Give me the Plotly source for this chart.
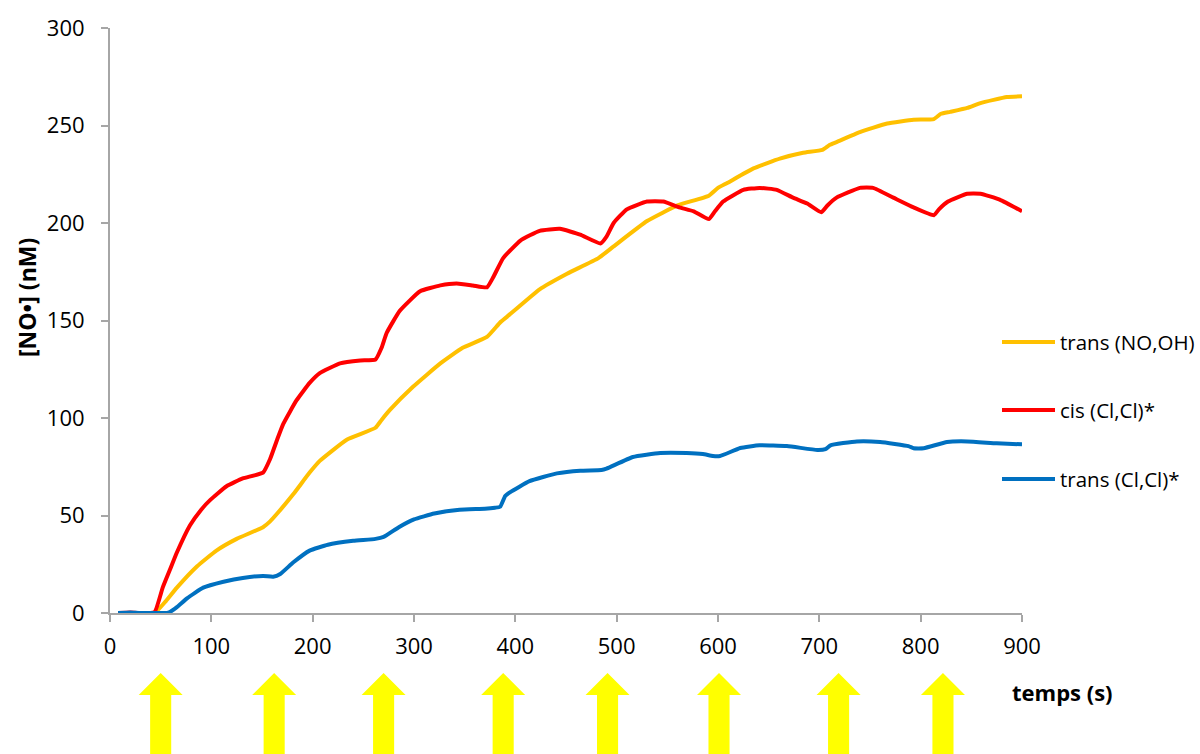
import plotly.graph_objects as go

# Time (s) and NO• concentration (nM) for each complex
red_t = [8, 20, 30, 44, 52, 59, 66, 79, 90, 99, 115, 131, 151, 158, 165, 171, 184, 197, 207,
         227, 247, 262, 268, 273, 286, 306, 326, 342, 358, 372, 378, 388, 405, 424, 444, 464,
         484, 490, 497, 510, 530, 546, 562, 576, 591, 597, 605, 625, 641, 658, 674, 688, 702,
         708, 717, 740, 753, 773, 793, 813, 818, 827, 846, 859, 878, 900]
red_v = [0, 0.3, 0, 0.5, 13, 22, 31, 45, 53, 58, 65, 69, 72, 79, 89, 97, 109, 118, 123,
         128, 129.5, 130, 136, 143.6, 155, 165, 168, 169, 168, 167, 172, 182, 191, 196, 197, 194,
         189.5, 193, 200, 207, 211, 211, 208, 206, 202, 206, 211, 217, 218, 217, 213, 210, 205.5,
         209, 213, 218, 218, 213, 208, 204, 207, 211, 215, 215, 212, 206]

yel_t = [8, 20, 30, 44, 55, 66, 86, 105, 125, 151, 158, 165, 181, 197, 207, 234, 262, 268, 276,
         299, 326, 348, 372, 385, 392, 424, 451, 482, 497, 530, 560, 591, 600, 609, 635, 661,
         684, 703, 710, 717, 740, 767, 793, 813, 820, 829, 846, 859, 885, 900]
yel_v = [0, 0, 0, 0, 6, 13, 24, 32, 38, 44, 47, 51, 61, 72, 78, 89, 95, 99, 104,
         116, 128, 136, 141.6, 149, 152, 166, 174, 182, 188, 201, 209, 214, 218, 220.5, 228, 233,
         236, 237.5, 240, 241.5, 246.6, 251, 253, 253.3, 256, 257, 259, 261.5, 264.6, 265]

blue_t = [8, 20, 30, 45, 56, 59, 66, 76, 92, 112, 131, 151, 161, 168, 181, 197, 215, 240, 262,
          270, 285, 300, 320, 345, 370, 380, 385, 390, 395, 414, 441, 464, 485, 490, 516, 543,
          569, 585, 595, 602, 622, 641, 668, 698, 706, 711, 737, 760, 788, 793, 803, 826, 846,
          875, 900]
blue_v = [0, 0.3, 0, 0, 0, 0.5, 3, 7.5, 13, 16, 18, 19, 18.6, 20, 26, 32, 35, 37, 38,
          39, 44, 48, 51, 53, 53.5, 54, 54.5, 60, 62, 67.6, 71.6, 73, 73.3, 74, 80, 82,
          82, 81.5, 80.5, 80.5, 84.6, 86, 85.6, 83.6, 84, 86, 88, 87.7, 85.6, 84.5, 84.5, 87.7, 88,
          87, 86.5]

# Injection times marked by the arrows below the axis
injections = [50, 162, 270, 388, 491, 601, 719, 822]

series = [
    ("trans (NO,OH)", yel_t, yel_v, "#FFC000"),
    ("cis (Cl,Cl)*", red_t, red_v, "#FF0000"),
    ("trans (Cl,Cl)*", blue_t, blue_v, "#0070C0"),
]

FONT = "Open Sans"
L, R, T, B = 110, 178, 28, 141
W, H = 1200, 754
PW, PH = W - L - R, H - T - B


def px_to_paper(px, py):
    return (px - L) / PW, (T + PH - py) / PH


fig = go.Figure()
for name, t, v, col in series:
    fig.add_trace(go.Scatter(x=t, y=v, mode="lines", name=name,
                             line=dict(color=col, width=4, shape="spline", smoothing=0.4),
                             showlegend=False))

shapes = []
annotations = []

# Legend drawn beside the plot
legend_rows = [342, 410, 479]
for (name, _, _, col), py in zip(series, legend_rows):
    x0, y0 = px_to_paper(1002, py)
    x1, _ = px_to_paper(1055, py)
    shapes.append(dict(type="line", xref="paper", yref="paper", x0=x0, x1=x1, y0=y0, y1=y0,
                       line=dict(color=col, width=4)))
    xt, _ = px_to_paper(1058, py)
    annotations.append(dict(text=name, xref="paper", yref="paper", x=xt, y=y0,
                            xanchor="left", yanchor="middle", showarrow=False,
                            font=dict(family=FONT, size=20.5, color="#000000")))

# Yellow arrows
tip_y = px_to_paper(0, 673)[1]
base_y = px_to_paper(0, 695)[1]
bot_y = px_to_paper(0, 760)[1]
head_hw = 21.7
shaft_hw = 10.4
for t0 in injections:
    path = (f"M {t0 - shaft_hw},{bot_y} L {t0 - shaft_hw},{base_y} L {t0 - head_hw},{base_y} "
            f"L {t0},{tip_y} L {t0 + head_hw},{base_y} L {t0 + shaft_hw},{base_y} "
            f"L {t0 + shaft_hw},{bot_y} Z")
    shapes.append(dict(type="path", xref="x", yref="paper", path=path,
                       fillcolor="#FFFF00", line=dict(width=0), layer="above"))

# Axis titles
xa, ya = px_to_paper(1062, 692)
annotations.append(dict(text="<b>temps (s)</b>", xref="paper", yref="paper", x=xa, y=ya,
                        xanchor="center", yanchor="middle", showarrow=False,
                        font=dict(family=FONT, size=22, color="#000000")))
xa, ya = px_to_paper(27, 298)
annotations.append(dict(text="<b>[NO•] (nM)</b>", xref="paper", yref="paper", x=xa, y=ya,
                        xanchor="center", yanchor="middle", showarrow=False, textangle=-90,
                        font=dict(family=FONT, size=23, color="#000000")))

fig.update_layout(
    width=W, height=H,
    margin=dict(l=L, r=R, t=T, b=B),
    paper_bgcolor="white", plot_bgcolor="white",
    shapes=shapes, annotations=annotations,
    font=dict(family=FONT, size=22, color="#000000"),
)
fig.update_xaxes(range=[0, 900], tickvals=[0, 100, 200, 300, 400, 500, 600, 700, 800, 900],
                 showgrid=False, zeroline=False, showline=True, linecolor="#A6A6A6", linewidth=2,
                 ticks="outside", ticklen=7, tickcolor="#A6A6A6", tickwidth=1.5,
                 ticklabelstandoff=6, tickfont=dict(family=FONT, size=22))
fig.update_yaxes(range=[0, 300], tickvals=[0, 50, 100, 150, 200, 250, 300],
                 showgrid=False, zeroline=False, showline=True, linecolor="#A6A6A6", linewidth=2,
                 ticks="outside", ticklen=7, tickcolor="#A6A6A6", tickwidth=1.5,
                 ticklabelstandoff=12, tickfont=dict(family=FONT, size=22))

fig.write_html("out.html")
